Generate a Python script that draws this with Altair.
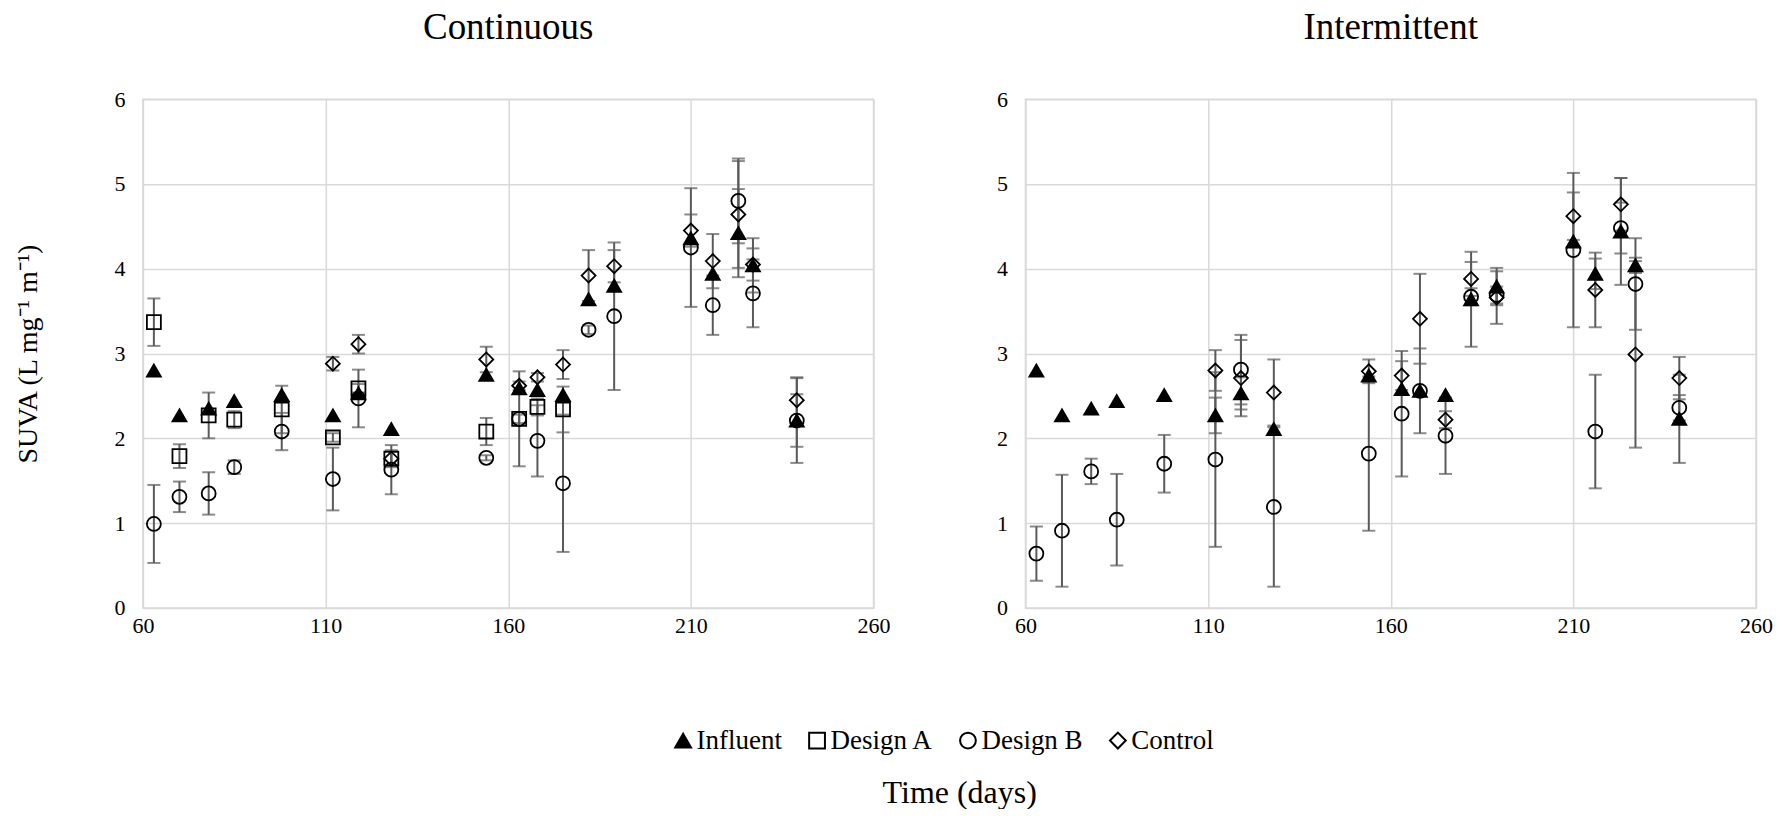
import altair as alt
import pandas as pd

series_order = ["Influent", "Design A", "Design B", "Control"]
shape_range = ["triangle-up", "square", "circle", "diamond"]
fill_range = ["black", "transparent", "transparent", "transparent"]
stroke_range = ["black", "black", "black", "black"]
x_ticks = [60, 110, 160, 210, 260]
y_ticks = [0, 1, 2, 3, 4, 5, 6]

days_all = [63, 70, 78, 85, 98, 112, 119, 128, 154, 163, 168, 175, 182, 189, 210, 216, 223, 227, 239]
days_design_a = [63, 70, 78, 85, 98, 112, 119, 128, 154, 163, 168, 175]
days_control = [112, 119, 128, 154, 163, 168, 175, 182, 189, 210, 216, 223, 227, 239]

# Continuous
cont_influent = [2.80, 2.27, 2.35, 2.44, 2.51, 2.27, 2.53, 2.11, 2.75, 2.59, 2.57, 2.51, 3.64, 3.80, 4.36, 3.94, 4.42, 4.04, 2.21]
cont_influent_err = [0, 0, 0, 0, 0, 0, 0, 0, 0, 0, 0, 0, 0, 0, 0, 0, 0.52, 0.32, 0.31]
cont_design_a = [3.37, 1.79, 2.27, 2.22, 2.34, 2.01, 2.59, 1.76, 2.08, 2.23, 2.37, 2.34]
cont_design_a_err = [0.28, 0.14, 0.27, 0.10, 0.28, 0.05, 0.05, 0.08, 0.16, 0.05, 0.10, 0.27]
cont_design_b = [0.99, 1.31, 1.35, 1.66, 2.08, 1.52, 2.47, 1.63, 1.77, 2.23, 1.97, 1.47, 3.28, 3.44, 4.25, 3.57, 4.80, 3.71, 2.21]
cont_design_b_err = [0.46, 0.18, 0.25, 0.08, 0.22, 0.37, 0.34, 0.29, 0.03, 0.56, 0.42, 0.81, 0.05, 0.87, 0.70, 0.35, 0.50, 0.40, 0.50]
cont_control = [2.88, 3.11, 1.76, 2.93, 2.62, 2.72, 2.87, 3.92, 4.03, 4.45, 4.09, 4.64, 4.05, 2.45]
cont_control_err = [0.08, 0.11, 0.10, 0.15, 0.05, 0.05, 0.17, 0.30, 0.19, 0.19, 0.32, 0.63, 0.19, 0.27]

# Intermittent
int_influent = [2.80, 2.27, 2.35, 2.44, 2.51, 2.27, 2.53, 2.11, 2.74, 2.58, 2.56, 2.51, 3.64, 3.79, 4.32, 3.94, 4.44, 4.04, 2.23]
int_influent_err = [0, 0, 0, 0, 0, 0.21, 0.19, 0, 0, 0, 0, 0, 0.56, 0.22, 0, 0.18, 0.63, 0.09, 0.52]
int_design_b = [0.64, 0.91, 1.61, 1.04, 1.70, 1.75, 2.81, 1.19, 1.82, 2.29, 2.56, 2.03, 3.67, 3.69, 4.22, 2.08, 4.48, 3.82, 2.36]
int_design_b_err = [0.32, 0.66, 0.15, 0.54, 0.34, 1.03, 0.41, 0.94, 0.91, 0.74, 0.50, 0.45, 0.10, 0.10, 0.91, 0.67, 0.30, 0.54, 0.15]
int_control = [2.80, 2.71, 2.54, 2.79, 2.74, 3.41, 2.22, 3.88, 3.66, 4.62, 3.75, 4.76, 2.99, 2.71]
int_control_err = [0.24, 0.45, 0.39, 0.14, 0.17, 0.53, 0.10, 0.20, 0.31, 0.28, 0.44, 0.31, 1.10, 0.25]

rows = []


def add(panel, series, dlist, vals, errs):
    for d, v, e in zip(dlist, vals, errs):
        rows.append(dict(panel=panel, series=series, day=d, suva=v, err=e,
                         lo=round(v - e, 3), hi=round(v + e, 3)))


add("Continuous", "Influent", days_all, cont_influent, cont_influent_err)
add("Continuous", "Design A", days_design_a, cont_design_a, cont_design_a_err)
add("Continuous", "Design B", days_all, cont_design_b, cont_design_b_err)
add("Continuous", "Control", days_control, cont_control, cont_control_err)
add("Intermittent", "Influent", days_all, int_influent, int_influent_err)
add("Intermittent", "Design B", days_all, int_design_b, int_design_b_err)
add("Intermittent", "Control", days_control, int_control, int_control_err)

df = pd.DataFrame(rows)

FONT = "Liberation Serif"
ERR_COLOR = "#5a5a5a"
YTITLE = "SUVA (L mg\u207b\u00b9 m\u207b\u00b9)"

legend = alt.Legend(title=None, orient="none", direction="horizontal",
                    legendX=527, legendY=628, padding=0,
                    labelFont=FONT, labelFontSize=27, labelColor="black",
                    symbolSize=250, symbolStrokeWidth=2,
                    labelOffset=0, columnPadding=21)


def panel(name, ytitle):
    base = alt.Chart(df).transform_filter(alt.datum.panel == name)
    xenc = alt.X("day:Q", scale=alt.Scale(domain=[60, 260], nice=False, zero=False),
                 axis=alt.Axis(values=x_ticks, title=None, labelPadding=8, labelFlush=False))
    yscale = alt.Scale(domain=[0, 6], nice=False)
    yaxis = alt.Axis(values=y_ticks, title=ytitle, labelPadding=18, titlePadding=71,
                     labelFlush=False,
                     titleFont=FONT, titleFontSize=28, titleFontWeight="normal",
                     titleColor="black")
    err = base.transform_filter("datum.err > 0")
    rule = err.mark_rule(color=ERR_COLOR, strokeWidth=2).encode(
        x=xenc, y=alt.Y("lo:Q", scale=yscale, axis=yaxis), y2="hi:Q")
    cap_lo = err.mark_tick(orient="horizontal", size=13, thickness=2, color=ERR_COLOR).encode(
        x=xenc, y=alt.Y("lo:Q", scale=yscale, axis=yaxis))
    cap_hi = err.mark_tick(orient="horizontal", size=13, thickness=2, color=ERR_COLOR).encode(
        x=xenc, y=alt.Y("hi:Q", scale=yscale, axis=yaxis))
    pts = base.mark_point(size=195, strokeWidth=1.8, opacity=1).encode(
        x=xenc,
        y=alt.Y("suva:Q", scale=yscale, axis=yaxis),
        shape=alt.Shape("series:N", scale=alt.Scale(domain=series_order, range=shape_range), legend=legend),
        fill=alt.Fill("series:N", scale=alt.Scale(domain=series_order, range=fill_range), legend=legend),
        stroke=alt.Stroke("series:N", scale=alt.Scale(domain=series_order, range=stroke_range), legend=legend),
    )
    return alt.layer(rule, cap_lo, cap_hi, pts).properties(
        width=731, height=509,
        title=alt.TitleParams(name, font=FONT, fontSize=37, fontWeight="normal",
                              color="black", anchor="middle", offset=41),
    )


left = panel("Continuous", YTITLE)
right = panel("Intermittent", None)

chart = alt.hconcat(left, right, spacing=104).resolve_scale(
    shape="shared", fill="shared", stroke="shared"
).properties(
    title=alt.TitleParams("Time (days)", orient="bottom", anchor="middle", font=FONT,
                          fontSize=32, fontWeight="normal", color="black", offset=24, dx=66),
    padding={"left": 6, "top": 0, "right": 5, "bottom": 0},
).configure_axis(
    grid=True, gridColor="#d9d9d9", gridWidth=1.5, domain=False, ticks=False, tickSize=0,
    labelFont=FONT, labelFontSize=22, labelColor="black",
).configure_view(stroke="#d9d9d9", strokeWidth=1.5)

chart.save("out.html", embed_options={"renderer": "svg", "actions": False})
